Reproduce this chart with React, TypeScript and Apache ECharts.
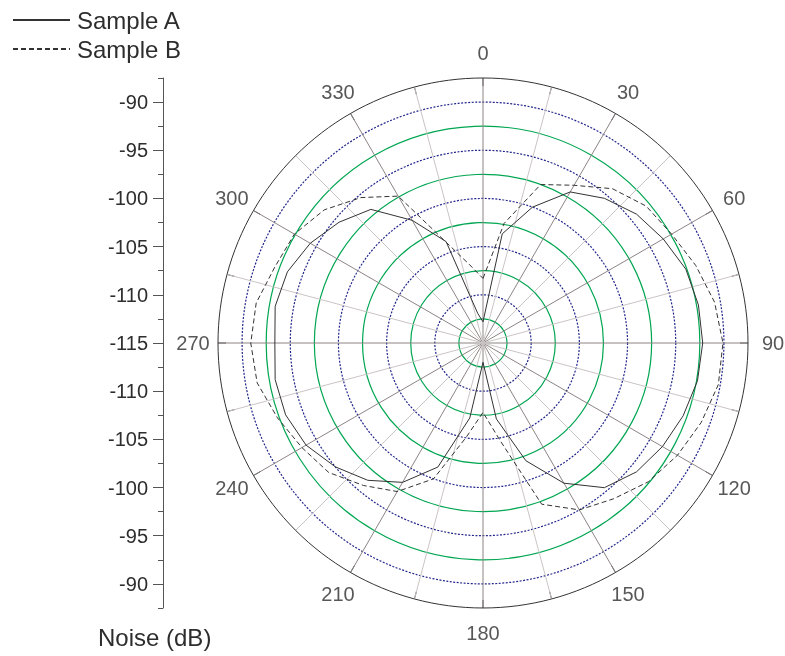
import React, { useEffect, useRef } from "react";
import * as echarts from "echarts";

const angles = [0, 10, 20, 30, 40, 50, 60, 70, 80, 90, 100, 110, 120, 130, 140, 150, 160, 170, 180, 190, 200, 210, 220, 230, 240, 250, 260, 270, 280, 290, 300, 310, 320, 330, 340, 350];
const sampleA = [-112.8, -103.5, -100.0, -96.9, -95.4, -94.2, -93.4, -92.6, -92.3, -92.2, -92.4, -92.9, -93.5, -94.2, -95.4, -98.2, -102.0, -107.0, -113.0, -107.1, -101.3, -98.3, -96.4, -95.0, -93.8, -93.2, -93.1, -93.4, -93.1, -93.4, -94.3, -95.5, -96.9, -100.3, -103.8, -111.9];
const sampleB = [-108.3, -102.4, -97.5, -96.1, -94.1, -92.9, -92.4, -91.5, -90.6, -90.1, -90.2, -90.9, -91.7, -92.6, -93.9, -95.0, -97.2, -104.7, -107.8, -105.1, -100.0, -97.2, -95.7, -94.1, -93.3, -92.3, -91.2, -90.9, -91.1, -92.0, -92.4, -93.5, -95.3, -97.4, -103.9, -106.7];
const angleLabels = [0, 30, 60, 90, 120, 150, 180, 210, 240, 270, 300, 330];
const majorTicks = [-115, -110, -105, -100, -95, -90];
const minorTicks = [-112.5, -107.5, -102.5, -97.5, -92.5, -87.5];
const R_MIN = -115;
const R_MAX = -87.5;

const GREEN = "#00a651";
const BLUE = "#23278c";
const NONE = "rgba(0,0,0,0)";
const TEXT = "#2d2d2d";
const FONT = "Liberation Sans, Arial, sans-serif";

const CX = 483;
const CY = 343;
const RADIUS = 265;

function closed(vals: number[]) {
  const d = angles.map((a, i) => [vals[i], a]);
  d.push([vals[0], 360]);
  return d;
}

export default function App() {
  const ref = useRef<HTMLDivElement>(null);
  useEffect(() => {
    if (!ref.current) return;
    const chart = echarts.init(ref.current, null, { renderer: "svg" });
    const greenCount = Math.round((R_MAX - R_MIN) / 2.5) + 1;
    const greenColors = Array.from({ length: greenCount }, (_, i) => (i % 2 === 1 && i < greenCount - 1 ? GREEN : NONE));
    const blueColors = [NONE, BLUE, BLUE, BLUE, BLUE, BLUE, NONE];

    const yBase = {
      type: "value",
      min: R_MIN,
      max: R_MAX,
      position: "left",
      offset: 0,
      splitLine: { show: false },
    };

    chart.setOption({
      animation: false,
      textStyle: { fontFamily: FONT },
      title: {
        text: "Noise (dB)",
        left: 98,
        top: 625,
        padding: 0,
        textStyle: { fontSize: 24, fontWeight: "normal", color: TEXT, fontFamily: FONT },
      },
      legend: {
        orient: "vertical",
        left: 12,
        top: 8,
        padding: 0,
        itemWidth: 57,
        itemHeight: 14,
        itemGap: 5,
        itemStyle: { color: NONE, borderColor: NONE, borderWidth: 0, opacity: 0 },
        textStyle: { fontSize: 24, color: TEXT, fontFamily: FONT, padding: [0, 0, 0, 2] },
        data: ["Sample A", "Sample B"],
      },
      polar: [
        { center: [CX, CY], radius: RADIUS },
        { center: [CX, CY], radius: RADIUS },
        { center: [CX, CY], radius: RADIUS + 25 },
      ],
      angleAxis: [
        {
          polarIndex: 0,
          type: "value",
          min: 0,
          max: 360,
          interval: 15,
          startAngle: 90,
          clockwise: true,
          axisLine: { show: true, lineStyle: { color: "#333", width: 1 } },
          axisTick: { show: true, inside: true, length: 8, lineStyle: { color: "#444" } },
          axisLabel: { show: false },
          splitLine: { show: true, lineStyle: { color: ["#8d8484", "#cbc4c4"], width: 1 } },
        },
        {
          polarIndex: 1,
          type: "value",
          min: 0,
          max: 360,
          startAngle: 90,
          show: false,
        },
        {
          polarIndex: 2,
          type: "value",
          min: 0,
          max: 360,
          startAngle: 90,
          show: false,
        },
      ],
      radiusAxis: [
        {
          polarIndex: 0,
          type: "value",
          min: R_MIN,
          max: R_MAX,
          interval: 2.5,
          axisLine: { show: false },
          axisTick: { show: false },
          axisLabel: { show: false },
          splitLine: { show: true, lineStyle: { color: greenColors, width: 1.2 } },
        },
        {
          polarIndex: 1,
          type: "value",
          min: R_MIN,
          max: R_MAX,
          interval: 5,
          axisLine: { show: false },
          axisTick: { show: false },
          axisLabel: { show: false },
          splitLine: { show: true, lineStyle: { color: blueColors, width: 1.2, type: [2, 1.5] } },
        },
        {
          polarIndex: 2,
          type: "value",
          min: 0,
          max: 1,
          show: false,
        },
      ],
      grid: [
        { left: 163, top: CY - RADIUS, height: RADIUS, width: 10 },
        { left: 163, top: CY, height: RADIUS, width: 10 },
      ],
      xAxis: [
        { gridIndex: 0, type: "value", show: false },
        { gridIndex: 1, type: "value", show: false },
      ],
      yAxis: [
        {
          ...yBase,
          gridIndex: 0,
          axisLine: { show: true, lineStyle: { color: "#555" } },
          axisTick: { show: true, length: 10, customValues: majorTicks, lineStyle: { color: "#555" } },
          axisLabel: { show: true, customValues: majorTicks, margin: 15, fontSize: 20, color: TEXT, fontFamily: FONT },
        },
        {
          ...yBase,
          gridIndex: 0,
          axisLine: { show: false },
          axisTick: { show: true, length: 5, customValues: minorTicks, lineStyle: { color: "#555" } },
          axisLabel: { show: false },
        },
        {
          ...yBase,
          gridIndex: 1,
          inverse: true,
          axisLine: { show: true, lineStyle: { color: "#555" } },
          axisTick: { show: true, length: 10, customValues: majorTicks, lineStyle: { color: "#555" } },
          axisLabel: { show: true, customValues: majorTicks.slice(1), margin: 15, fontSize: 20, color: TEXT, fontFamily: FONT },
        },
        {
          ...yBase,
          gridIndex: 1,
          inverse: true,
          axisLine: { show: false },
          axisTick: { show: true, length: 5, customValues: minorTicks, lineStyle: { color: "#555" } },
          axisLabel: { show: false },
        },
      ],
      series: [
        {
          name: "Sample A",
          type: "line",
          coordinateSystem: "polar",
          polarIndex: 0,
          symbol: "none",
          data: closed(sampleA),
          lineStyle: { color: "#333", width: 1, type: "solid" },
          itemStyle: { color: "#333" },
          z: 5,
        },
        {
          name: "Sample B",
          type: "line",
          coordinateSystem: "polar",
          polarIndex: 0,
          symbol: "none",
          data: closed(sampleB),
          lineStyle: { color: "#333", width: 1, type: [5, 3] },
          itemStyle: { color: "#333" },
          z: 5,
        },
        {
          name: "angleLabels",
          type: "scatter",
          coordinateSystem: "polar",
          polarIndex: 2,
          symbolSize: 1,
          silent: true,
          itemStyle: { color: NONE },
          label: {
            show: true,
            position: "inside",
            fontSize: 20,
            color: TEXT,
            fontFamily: FONT,
            formatter: (p: any) => String(p.value[1]),
          },
          data: angleLabels.map((a) => [1, a]),
        },
      ],
    });
    return () => chart.dispose();
  }, []);
  return (
    <div
      ref={ref}
      style={{ position: "fixed", left: 0, top: 0, width: 785, height: 656 }}
    />
  );
}
